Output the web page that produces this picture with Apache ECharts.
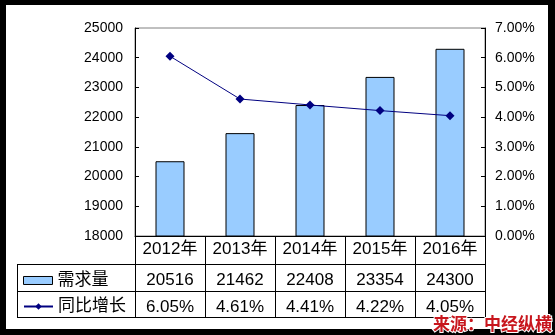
<!DOCTYPE html>
<html>
<head>
<meta charset="utf-8">
<script src="https://cdn.jsdelivr.net/npm/echarts@6/dist/echarts.min.js"></script>
<style>
html,body{margin:0;padding:0;background:#000;}
#frame{position:absolute;left:0;top:0;width:555px;height:335px;background:#000;}
#paper{position:absolute;left:6px;top:5px;width:542px;height:324px;background:#fff;}
#chart{position:absolute;left:0;top:0;width:555px;height:335px;}
</style>
</head>
<body>
<div id="frame"><div id="paper"></div></div>
<div id="chart"></div>
<script>
var years = ['2012年', '2013年', '2014年', '2015年', '2016年'];
var demand = [20516, 21462, 22408, 23354, 24300];
var growth = [6.05, 4.61, 4.41, 4.22, 4.05];
var seriesNames = ['需求量', '同比增长'];
var leftTicks = {min: 18000, max: 25000, interval: 1000};
var rightTicks = {min: 0, max: 7, interval: 1};
var source = '来源：中经纵横';

var FONT = '"Liberation Sans", Arial, "Noto Sans CJK SC", sans-serif';
var chart = echarts.init(document.getElementById('chart'), null, {renderer: 'canvas'});

function hline(y, x1, x2) {
  return {type: 'line', silent: true, shape: {x1: x1, y1: y, x2: x2, y2: y},
          style: {stroke: '#000', lineWidth: 1}};
}

var option = {
  backgroundColor: 'transparent',
  animation: false,
  grid: {left: 135, top: 28, right: 70, bottom: 99, show: true,
         borderColor: '#808080', borderWidth: 1, backgroundColor: 'transparent'},
  legend: [
    {data: [{name: seriesNames[0], icon: 'rect'}], left: 23, top: 272, padding: 0, itemWidth: 29, itemHeight: 8,
     itemGap: 6, itemStyle: {borderWidth: 1, borderColor: '#000'},
     textStyle: {fontSize: 17, color: '#000', fontFamily: FONT}},
    {data: [seriesNames[1]], left: 23, top: 298, padding: 0, itemWidth: 29, itemHeight: 8,
     itemGap: 6, textStyle: {fontSize: 17, color: '#000', fontFamily: FONT}}
  ],
  xAxis: [
    {type: 'category', data: years, position: 'bottom', boundaryGap: true,
     axisLine: {show: true, lineStyle: {color: '#000', width: 1}},
     axisTick: {show: true, interval: 0, length: 81, lineStyle: {color: '#000', width: 1}},
     axisLabel: {interval: 0, fontSize: 17, color: '#000', fontFamily: FONT, margin: 5}},
    {type: 'category', data: demand.map(String), position: 'bottom', offset: 28,
     axisLine: {show: false}, axisTick: {show: false},
     axisLabel: {interval: 0, fontSize: 17, color: '#000', fontFamily: FONT, margin: 8}},
    {type: 'category', data: growth.map(function (v) { return v.toFixed(2) + '%'; }),
     position: 'bottom', offset: 56,
     axisLine: {show: false}, axisTick: {show: false},
     axisLabel: {interval: 0, fontSize: 17, color: '#000', fontFamily: FONT, margin: 7}}
  ],
  yAxis: [
    {type: 'value', position: 'left', min: leftTicks.min, max: leftTicks.max, interval: leftTicks.interval,
     axisLine: {show: true, lineStyle: {color: '#000'}},
     axisTick: {show: true, inside: true, length: 4, lineStyle: {color: '#000'}},
     splitLine: {show: false},
     axisLabel: {fontSize: 14, color: '#000', fontFamily: FONT, margin: 12,
                 formatter: function (v) { return String(v); }}},
    {type: 'value', position: 'right', min: rightTicks.min, max: rightTicks.max, interval: rightTicks.interval,
     axisLine: {show: true, lineStyle: {color: '#000'}},
     axisTick: {show: true, inside: true, length: 4, lineStyle: {color: '#000'}},
     splitLine: {show: false},
     axisLabel: {fontSize: 14, color: '#000', fontFamily: FONT, margin: 10,
                 formatter: function (v) { return v.toFixed(2) + '%'; }}}
  ],
  series: [
    {name: seriesNames[0], type: 'bar', xAxisIndex: 0, yAxisIndex: 0, data: demand, barWidth: 29,
     itemStyle: {color: '#99CCFF', borderColor: '#000', borderWidth: 1}},
    {name: seriesNames[1], type: 'line', xAxisIndex: 0, yAxisIndex: 1, data: growth,
     symbol: 'diamond', symbolSize: 9, showSymbol: true,
     itemStyle: {color: '#000080'}, lineStyle: {color: '#000080', width: 1}}
  ],
  graphic: [
    hline(264.5, 17, 485),
    hline(291.5, 17, 485),
    hline(317.5, 17, 485),
    {type: 'line', silent: true, shape: {x1: 17.5, y1: 264, x2: 17.5, y2: 318},
     style: {stroke: '#000', lineWidth: 1}},
    {type: 'text', silent: true, left: 432, top: 314, z: 100,
     style: {text: source, fill: '#C8161D', stroke: '#fff', lineWidth: 2,
             font: 'bold 17px "Noto Sans CJK SC", sans-serif'}}
  ]
};
chart.setOption(option);
</script>
</body>
</html>
